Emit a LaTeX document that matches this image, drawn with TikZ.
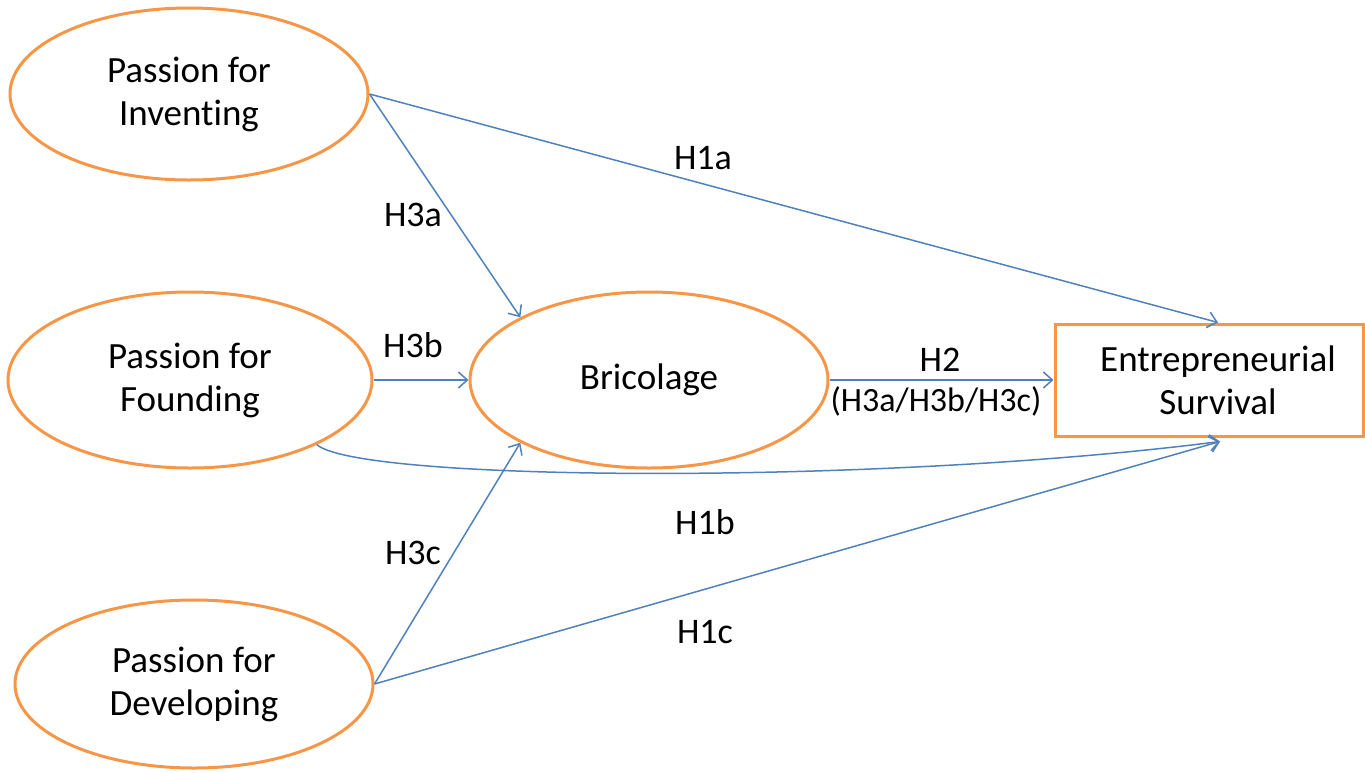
\documentclass[tikz,border=0pt]{standalone}
\usepackage{fontspec}
\setmainfont{Carlito}[Ligatures=NoCommon]
\usetikzlibrary{shapes.geometric,arrows.meta,calc}
\definecolor{boxorange}{RGB}{247,150,70}
\definecolor{linkblue}{RGB}{79,129,189}
\tikzset{
  construct/.style={ellipse, draw=boxorange, line width=3pt, fill=white,
    inner sep=0pt, align=center, font=\fontsize{37}{43}\selectfont},
  outcome/.style={rectangle, draw=boxorange, line width=3pt, fill=white,
    inner sep=0pt, align=center, font=\fontsize{37}{43}\selectfont},
  link/.style={draw=linkblue, line width=1.5pt, -{Straight Barb[length=9pt,width=16pt,line width=1.5pt]}},
  hyp/.style={font=\fontsize{36}{40}\selectfont, inner sep=0pt},
  hypsmall/.style={font=\fontsize{34}{38}\selectfont, inner sep=0pt}
}
\begin{document}
\begin{tikzpicture}[x=1pt,y=-1pt]
\useasboundingbox (0,0) rectangle (1365,772);

% constructs
\node[construct, minimum width=358pt, minimum height=172pt] (inv) at (189,94) {Passion for\\Inventing};
\node[construct, minimum width=364pt, minimum height=176pt] (fou) at (190,380) {Passion for\\Founding};
\node[construct, minimum width=358pt, minimum height=168pt] (dev) at (194,684) {Passion for\\Developing};
\node[construct, minimum width=358pt, minimum height=176pt] (bric) at (649,380) {Bricolage};
\node[outcome, minimum width=308pt, minimum height=112pt] (surv) at (1209,380) {\hspace*{18pt}Entrepreneurial\\\hspace*{18pt}Survival};

% end points on the outcome box
\coordinate (survtop) at ([xshift=9pt]surv.north);
\coordinate (survbot) at ([xshift=11pt,yshift=-4pt]surv.south);

% direct effects
\draw[link] (inv.east) -- (survtop);
\draw[link] (fou.333) .. controls (360,482) and (880,485) .. (survbot);
\draw[link] (dev.east) -- (survbot);

% mediated paths
\draw[link] (inv.east) -- (bric.154);
\draw[link] (fou.east) -- (bric.west);
\draw[link] (dev.east) -- (bric.206);
\draw[link] (bric.east) -- (surv.west);

% hypothesis labels
\node[hyp] (h1a) at (703,158) {H1a};
\node[hyp] (h3a) at (413,215) {H3a};
\node[hyp] (h3b) at (413,345) {H3b};
\node[hyp] (h2) at (940,360) {H2};
\node[hypsmall] (h2m) at (936,401) {(H3a/H3b/H3c)};
\node[hyp] (h1b) at (705,522) {H1b};
\node[hyp] (h3c) at (413,553) {H3c};
\node[hyp] (h1c) at (705,632) {H1c};
\end{tikzpicture}
\end{document}
